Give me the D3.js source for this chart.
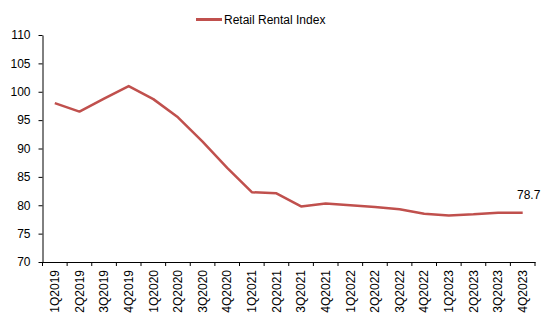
<!DOCTYPE html>
<html>
<head>
<meta charset="utf-8">
<script src="https://cdn.jsdelivr.net/npm/d3@7"></script>
<style>
  body { margin: 0; background: #fff; }
  text { font-family: Arial, "Liberation Sans", sans-serif; }
</style>
</head>
<body>
<div id="chart"></div>
<script>
// data
var quarters = ['1Q2019','2Q2019','3Q2019','4Q2019','1Q2020','2Q2020','3Q2020','4Q2020',
  '1Q2021','2Q2021','3Q2021','4Q2021','1Q2022','2Q2022','3Q2022','4Q2022',
  '1Q2023','2Q2023','3Q2023','4Q2023']
var rentalIndex = [98.0, 96.5, 98.8, 101.0, 98.7, 95.5, 91.2, 86.6,
  82.3, 82.1, 79.8, 80.3, 80.0, 79.7, 79.3, 78.5,
  78.2, 78.4, 78.7, 78.7]
var yTicks = [70, 75, 80, 85, 90, 95, 100, 105, 110]
var seriesName = 'Retail Rental Index'

var W = 550, H = 321
var margin = {top: 35, right: 15, bottom: 59, left: 42.5}
var width = 535 - margin.left,
    height = 262 - margin.top

var svg = d3.select('#chart')
  .append('svg')
  .attr('width', W)
  .attr('height', H)

var g = svg.append('g')
  .attr('transform', 'translate(' + margin.left + ',' + margin.top + ')')

var x = d3.scaleBand()
  .domain(quarters)
  .range([0, width])

var y = d3.scaleLinear()
  .domain([70, 110])
  .range([height, 0])

// y axis
var yAxis = g.append('g')
  .call(d3.axisLeft(y).tickValues(yTicks).tickSize(4).tickSizeOuter(0).tickPadding(8))
yAxis.selectAll('text').style('font-size', '12px').attr('fill', '#000')
yAxis.selectAll('line, path').attr('stroke', '#000')

// x axis - ticks between the categories
var xAxis = g.append('g')
  .attr('transform', 'translate(0,' + height + ')')
  .call(d3.axisBottom(x).tickSize(0).tickSizeOuter(0))
xAxis.select('path').attr('stroke', '#000')
xAxis.selectAll('text')
  .style('font-size', '12px')
  .attr('fill', '#000')
  .attr('text-anchor', 'end')
  .attr('transform', 'rotate(-90)')
  .attr('x', -8)
  .attr('y', 0)
  .attr('dy', '0.35em')

var bounds = quarters.map(function (q) { return x(q) }).concat([width])
g.append('g').selectAll('line')
  .data(bounds)
  .enter()
  .append('line')
  .attr('x1', function (d) { return d })
  .attr('x2', function (d) { return d })
  .attr('y1', height)
  .attr('y2', height + 4)
  .attr('stroke', '#000')

// line
var line = d3.line()
  .x(function (d, i) { return x(quarters[i]) + x.bandwidth() / 2 })
  .y(function (d) { return y(d) })

g.append('path')
  .datum(rentalIndex)
  .attr('fill', 'none')
  .attr('stroke', '#C0504D')
  .attr('stroke-width', 2.5)
  .attr('stroke-linejoin', 'round')
  .attr('d', line)

// last value label
var last = rentalIndex.length - 1
g.append('text')
  .attr('x', x(quarters[last]) + x.bandwidth() / 2 + 6)
  .attr('y', y(rentalIndex[last]) - 14)
  .attr('text-anchor', 'middle')
  .style('font-size', '12px')
  .text(rentalIndex[last].toFixed(1))

// legend
var legend = svg.append('g')
legend.append('line')
  .attr('x1', 196).attr('x2', 222)
  .attr('y1', 19.5).attr('y2', 19.5)
  .attr('stroke', '#C0504D')
  .attr('stroke-width', 3)
legend.append('text')
  .attr('x', 224)
  .attr('y', 19.5)
  .attr('dy', '0.35em')
  .style('font-size', '12px')
  .text(seriesName)
</script>
</body>
</html>
